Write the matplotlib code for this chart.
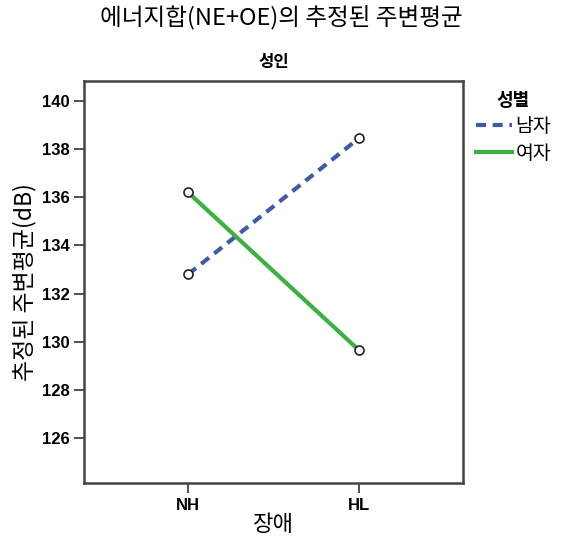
import matplotlib
matplotlib.use("Agg")
import matplotlib.pyplot as plt

plt.rcParams['font.family'] = ['Noto Sans CJK KR', 'DejaVu Sans']

# data
groups = ['NH', 'HL']
series_names = ['남자', '여자']
male = [132.8, 138.45]
female = [136.2, 129.65]
yticks = [126, 128, 130, 132, 134, 136, 138, 140]

fig = plt.figure(figsize=(5.62, 5.45), dpi=100)
ax = fig.add_axes([0.1495, 0.1138, 0.6744, 0.7376])

xs = list(range(len(groups)))
l1, = ax.plot(xs, male, color='#3f5ba8', lw=3, ls=(0, (2.4, 1.6)), label=series_names[0])
l2, = ax.plot(xs, female, color='#3cb043', lw=3, label=series_names[1])
ax.plot(xs, male, 'o', mfc='white', mec='#222222', mew=1.2, ms=6.5)
ax.plot(xs, female, 'o', mfc='white', mec='#222222', mew=1.2, ms=6.5)

ax.set_xlim(-0.61, 1.61)
ax.set_ylim(124.13, 140.83)
ax.set_xticks(xs)
ax.set_xticklabels(groups, family='Liberation Sans', fontsize=12, fontweight='bold')
ax.set_yticks(yticks)
ax.set_yticklabels([str(v) for v in yticks], family='Liberation Sans', fontsize=12, fontweight='bold')
ax.tick_params(length=7, width=1.2, color='#333333')
for s in ax.spines.values():
    s.set_linewidth(1.8)
    s.set_color('#444444')

ax.set_xlabel('장애', fontsize=16, labelpad=0)
ax.set_ylabel('추정된 주변평균(dB)', fontsize=16.5, labelpad=4)
ax.set_title('성인', fontsize=12, fontweight='bold', pad=10)
fig.text(0.5, 0.967, '에너지합(NE+OE)의 추정된 주변평균', ha='center', va='center', fontsize=17)

leg = fig.legend(handles=[l1, l2], title='성별', loc='upper left',
                 bbox_to_anchor=(0.815, 0.865), frameon=False, fontsize=14,
                 handlelength=1.9, handletextpad=0.15, labelspacing=0.3)
leg.get_title().set_fontweight('bold')
leg.get_title().set_fontsize(13)

fig.savefig('out.png', dpi=100)
